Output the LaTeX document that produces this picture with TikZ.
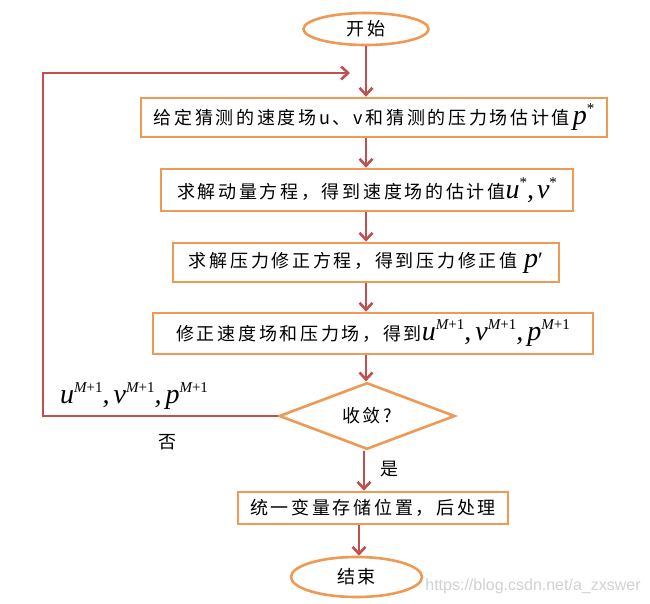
\documentclass[tikz,border=0pt]{standalone}
\usepackage{fontspec}
\setmainfont{Liberation Serif}
\newfontfamily\cjk[LetterSpace=15]{Noto Sans CJK SC}
\newfontfamily\cjkn{Noto Sans CJK SC}
\newfontfamily\tms{Liberation Serif}
\newfontfamily\wmk{Liberation Sans}
\usetikzlibrary{shapes.geometric,arrows.meta}
\definecolor{boxorange}{HTML}{EE9A55}
\definecolor{arrred}{HTML}{C0504D}
\newcommand\mvar[1]{{\fontsize{28}{28}\selectfont\tms\itshape #1}}
\newcommand\msup[1]{\raisebox{11pt}{\fontsize{15}{15}\selectfont\tms #1}}
\newcommand\Mp{{\itshape M}+1}
\newcommand\cm{\mvar{,}\hspace{4pt}}
\tikzset{
  procbox/.style={draw=boxorange, line width=2.6pt, fill=white, rectangle, inner sep=0pt, font=\cjk\fontsize{18}{20}\selectfont},
  termin/.style={draw=boxorange, line width=2.6pt, fill=white, ellipse, inner sep=0pt, font=\cjk\fontsize{18}{20}\selectfont},
  decis/.style={draw=boxorange, line width=2.6pt, fill=white, diamond, inner sep=0pt, font=\cjk\fontsize{18}{20}\selectfont},
  arr/.style={draw=arrred, line width=2.6pt, -{Straight Barb[length=7pt,width=13pt,line width=2.6pt]}},
  lbl/.style={inner sep=0pt, font=\cjkn\fontsize{18}{20}\selectfont}
}
\begin{document}
\begin{tikzpicture}[x=1pt,y=-1pt]
\useasboundingbox (0,0) rectangle (650,604);
\node[termin, minimum width=125pt, minimum height=32pt] (start) at (366,29) {开始};
\node[procbox, minimum width=466pt, minimum height=39pt] (b1) at (374,117.5)
  {给定猜测的速度场u、v和猜测的压力场估计值\,\mvar{p}\msup{*}};
\node[procbox, minimum width=412pt, minimum height=42pt] (b2) at (367,190)
  {求解动量方程，得到速度场的估计值\mvar{u}\msup{*}\mvar{,}\,\mvar{v}\msup{*}};
\node[procbox, minimum width=386pt, minimum height=39pt] (b3) at (366,262.5)
  {求解压力修正方程，得到压力修正值 \mvar{p}{\fontsize{22}{22}\selectfont\tms ′}};
\node[procbox, minimum width=440pt, minimum height=41pt] (b4) at (373,333.5)
  {修正速度场和压力场，得到\mvar{u}\msup{\Mp}\cm\mvar{v}\msup{\Mp}\cm\mvar{p}\msup{\Mp}};
\node[decis, minimum width=176pt, minimum height=58pt] (dia) at (367,416) {收敛?};
\node[procbox, minimum width=270pt, minimum height=32pt] (b5) at (373,508) {统一变量存储位置，后处理};
\node[termin, minimum width=131pt, minimum height=40pt] (end) at (356.5,577) {结束};

\coordinate (c1) at (43,416);
\coordinate (c2) at (43,73);
\coordinate (c3) at (350,73);

\draw[arr] (start.south) -- (start.south |- b1.north);
\draw[arr] (b1.south -| start) -- (b2.north -| start);
\draw[arr] (b2.south -| start) -- (b3.north -| start);
\draw[arr] (b3.south -| start) -- (b4.north -| start);
\draw[arr] (b4.south -| start) -- (dia.north -| start);
\draw[arr] (dia.south -| 364,0) -- (b5.north -| 364,0);
\draw[arr] (b5.south -| 359,0) -- (end.north -| 359,0);
\draw[arr] (dia.west) -- (c1) -- (c2) -- (c3);

\node[inner sep=0pt, anchor=base west] (lp) at (60,403)
  {\mvar{u}\msup{\Mp}\cm\mvar{v}\msup{\Mp}\cm\mvar{p}\msup{\Mp}};
\node[lbl] (no) at (167,442) {否};
\node[lbl] (yes) at (389,469) {是};
\node[inner sep=0pt, text=black!18, font=\wmk\fontsize{16}{16}\selectfont] (wm) at (533,586) {https://blog.csdn.net/a\_zxswer};
\end{tikzpicture}
\end{document}
